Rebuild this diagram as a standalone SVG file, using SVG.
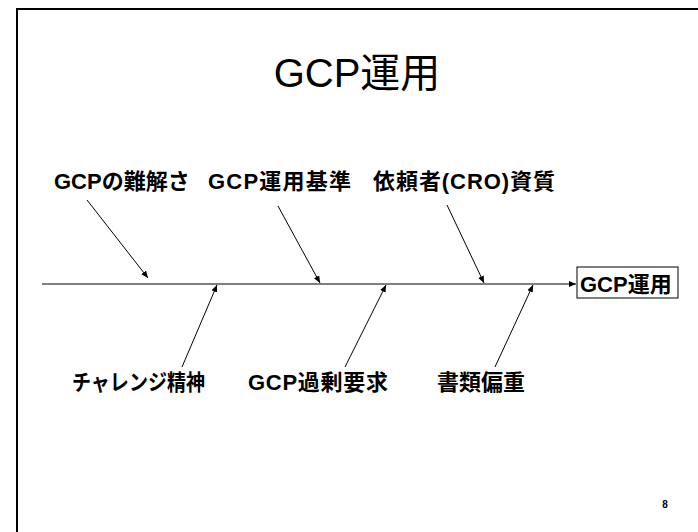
<svg xmlns="http://www.w3.org/2000/svg" width="698" height="532" viewBox="0 0 698 532">
<style>
.lbl{font-family:"Liberation Sans","Noto Sans CJK JP",sans-serif;font-size:22px;font-weight:bold;fill:#000}
.title{font-family:"Liberation Sans","Noto Sans CJK JP",sans-serif;font-size:40px;fill:#000}
.ln{stroke:#000;stroke-width:1;fill:none}
</style>
<defs>
<marker id="ah" markerUnits="userSpaceOnUse" markerWidth="10" markerHeight="10" refX="7" refY="3" orient="auto">
<path d="M0,0 L7,3 L0,6 Z" fill="#000"/>
</marker>
</defs>
<rect width="698" height="532" fill="#fff"/>
<g id="frame">
<line x1="17" y1="9" x2="698" y2="9" stroke="#000" stroke-width="2"/>
<line x1="17" y1="8" x2="17" y2="532" stroke="#000" stroke-width="2"/>
</g>
<g id="title"><text class="title" x="357" y="87" text-anchor="middle">GCP運用</text></g>
<g id="connectors">
<line class="ln" x1="42" y1="284" x2="576" y2="284" stroke-width="1.5" marker-end="url(#ah)"/>
<line class="ln" x1="87" y1="200" x2="148" y2="278" marker-end="url(#ah)"/>
<line class="ln" x1="278" y1="206" x2="320" y2="283" marker-end="url(#ah)"/>
<line class="ln" x1="447" y1="205" x2="484" y2="283" marker-end="url(#ah)"/>
<line class="ln" x1="182" y1="367" x2="217" y2="285" marker-end="url(#ah)"/>
<line class="ln" x1="345" y1="367" x2="386" y2="285" marker-end="url(#ah)"/>
<line class="ln" x1="495" y1="367" x2="533" y2="285" marker-end="url(#ah)"/>
</g>
<g id="n1"><text class="lbl" x="54" y="189">GCPの難解さ</text></g>
<g id="n2"><text class="lbl" x="208" y="189" textLength="143" lengthAdjust="spacing">GCP運用基準</text></g>
<g id="n3"><text class="lbl" x="373" y="189" textLength="182" lengthAdjust="spacing">依頼者(CRO)資質</text></g>
<g id="n4"><text class="lbl" x="72" y="390" textLength="133" lengthAdjust="spacingAndGlyphs">チャレンジ精神</text></g>
<g id="n5"><text class="lbl" x="248" y="390" textLength="140" lengthAdjust="spacing">GCP過剰要求</text></g>
<g id="n6"><text class="lbl" x="437" y="390">書類偏重</text></g>
<g id="result">
<rect x="577" y="267" width="101" height="31" fill="#fff" stroke="#000" stroke-width="1"/>
<text class="lbl" x="580" y="292">GCP運用</text>
</g>
<g id="page"><text x="665" y="508" font-family="Liberation Sans, sans-serif" font-size="10" font-weight="bold" text-anchor="middle">8</text></g>
</svg>
